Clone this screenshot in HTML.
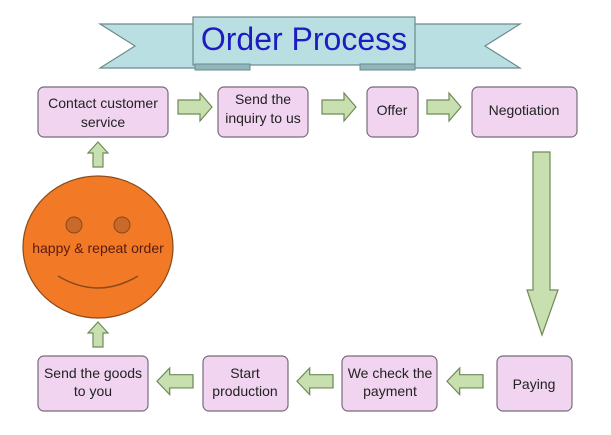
<!DOCTYPE html>
<html><head><style>
body{margin:0;width:611px;height:430px;background:#fff;overflow:hidden}
</style></head><body>
<svg width="611" height="430" xmlns="http://www.w3.org/2000/svg" font-family="Liberation Sans, sans-serif">
<defs>
<g id="ar"><polygon points="0,7 22,7 22,0 34,14 22,28 22,21 0,21" fill="#c8e0b0" stroke="#6f8a5a" stroke-width="1.2"/></g>
</defs>
<polygon points="100,24 200,24 200,68 100,68 135,46" fill="#b9dfe3" stroke="#6a8a8d" stroke-width="1.2"/>
<polygon points="520,24 410,24 410,68 520,68 485,46" fill="#b9dfe3" stroke="#6a8a8d" stroke-width="1.2"/>
<rect x="193" y="17" width="222" height="48" fill="#b9dfe3" stroke="#6a8a8d" stroke-width="1.2"/>
<rect x="195" y="64" width="55" height="6" fill="#8fb6ba" stroke="#6a8a8d"/>
<rect x="360" y="64" width="55" height="6" fill="#8fb6ba" stroke="#6a8a8d"/>
<text x="304" y="50" text-anchor="middle" font-size="32" fill="#1c1cc0">Order Process</text>
<g fill="#f0d4f0" stroke="#7a6a7a" stroke-width="1.2">
<rect x="38" y="87" width="130" height="50" rx="6"/>
<rect x="218" y="87" width="90" height="50" rx="6"/>
<rect x="367" y="87" width="51" height="50" rx="6"/>
<rect x="472" y="87" width="105" height="50" rx="6"/>
<rect x="38" y="356" width="110" height="55" rx="6"/>
<rect x="203" y="356" width="85" height="55" rx="6"/>
<rect x="342" y="356" width="95" height="55" rx="6"/>
<rect x="497" y="356" width="75" height="55" rx="6"/>
</g>
<g font-size="14" fill="#222" text-anchor="middle">
<text x="103" y="108">Contact customer</text><text x="103" y="127">service</text>
<text x="263" y="104">Send the</text><text x="263" y="123">inquiry to us</text>
<text x="392" y="115">Offer</text>
<text x="524" y="115">Negotiation</text>
<text x="93" y="378">Send the goods</text><text x="93" y="396">to you</text>
<text x="245" y="378">Start</text><text x="245" y="396">production</text>
<text x="390" y="378">We check the</text><text x="390" y="396">payment</text>
<text x="534" y="389">Paying</text>
</g>
<use href="#ar" transform="translate(178,93)"/>
<use href="#ar" transform="translate(322,93)"/>
<use href="#ar" transform="translate(427,93)"/>
<use href="#ar" transform="translate(193,368) scale(-1.06,0.95)"/>
<use href="#ar" transform="translate(333,368) scale(-1.06,0.95)"/>
<use href="#ar" transform="translate(483,368) scale(-1.06,0.95)"/>
<polygon points="93,167 103,167 103,153 108,153 98,142 88,153 93,153" fill="#c8e0b0" stroke="#6f8a5a" stroke-width="1.2"/>
<polygon points="93,347 103,347 103,333 108,333 98,322 88,333 93,333" fill="#c8e0b0" stroke="#6f8a5a" stroke-width="1.2"/>
<polygon points="533,152 550,152 550,290 558,290 542,335 527,290 533,290" fill="#c8e0b0" stroke="#6f8a5a" stroke-width="1.2"/>
<ellipse cx="98" cy="247" rx="75" ry="71" fill="#f27a26" stroke="#8a4a1a" stroke-width="1.2"/>
<circle cx="74" cy="225" r="8" fill="#c96a2a" stroke="#8a4a1a"/>
<circle cx="122" cy="225" r="8" fill="#c96a2a" stroke="#8a4a1a"/>
<path d="M58 276 Q98 300 138 276" fill="none" stroke="#8a4a1a" stroke-width="1.5"/>
<text x="98" y="253" text-anchor="middle" font-size="14" fill="#5a1a10">happy &amp; repeat order</text>
</svg>
</body></html>
